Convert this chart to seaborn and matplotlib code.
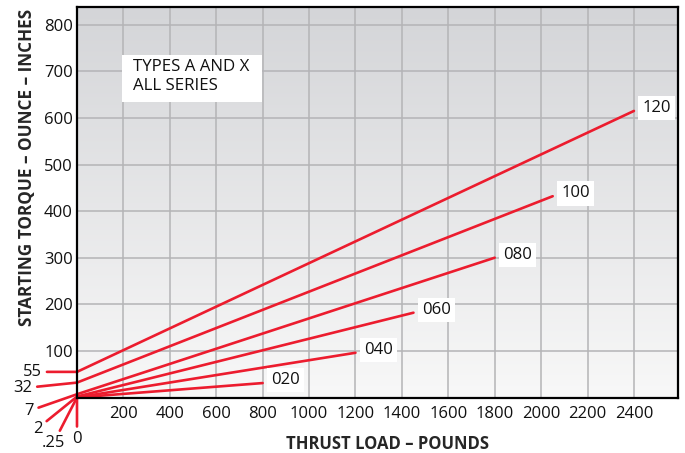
import numpy as np
import pandas as pd
import matplotlib
matplotlib.use("Agg")
import matplotlib.pyplot as plt
from matplotlib.colors import LinearSegmentedColormap
from matplotlib.patches import Rectangle
import seaborn as sns

# series: starting torque at zero load and line end points
series = ['020', '040', '060', '080', '100', '120']
start_torque = [0, 0.25, 2, 7, 32, 55]
start_labels = ['0', '.25', '2', '7', '32', '55']
end_load = [800, 1200, 1450, 1800, 2050, 2400]
end_torque = [31, 96, 182, 300, 432, 615]

x_ticks = list(range(200, 2401, 200))
y_ticks = list(range(100, 801, 100))

rows = []
for s, y0, x1, y1 in zip(series, start_torque, end_load, end_torque):
    rows.append({'series': s, 'load': 0, 'torque': y0})
    rows.append({'series': s, 'load': x1, 'torque': y1})
df = pd.DataFrame(rows)

red = '#ec1c2e'

sns.set_theme(style='white')
plt.rcParams['font.family'] = ['Open Sans', 'DejaVu Sans']

fig = plt.figure(figsize=(6.85, 4.53), dpi=100)
ax = fig.add_axes([0.1124, 0.1225, 0.8774, 0.862])

# grey gradient background
grad = np.linspace(0, 1, 256).reshape(-1, 1)
cmap = LinearSegmentedColormap.from_list('bg', ['#f8f8f8', '#d4d5d8'])
ax.imshow(grad, extent=[0, 1, 0, 1], transform=ax.transAxes, aspect='auto',
          cmap=cmap, origin='lower', zorder=0)

sns.lineplot(data=df, x='load', y='torque', hue='series',
             palette=[red] * len(series), linewidth=1.9, legend=False,
             ax=ax, zorder=3)

ax.set_xlim(0, 2590)
ax.set_ylim(0, 838)
ax.set_xticks(x_ticks)
ax.set_yticks(y_ticks)
ax.set_xticklabels([str(v) for v in x_ticks])
ax.set_yticklabels([str(v) for v in y_ticks])
ax.tick_params(axis='both', length=0, labelsize=12, colors='#111111')
ax.tick_params(axis='x', pad=6)
ax.tick_params(axis='y', pad=3)
ax.grid(True, color='#b4b4b6', linewidth=1.1, zorder=1)
ax.set_axisbelow(False)
for sp in ax.spines.values():
    sp.set_color('black')
    sp.set_linewidth(1.6)
    sp.set_zorder(4)

# end-of-line labels
for s, x1, y1 in zip(series, end_load, end_torque):
    ax.annotate(s, xy=(x1, y1), xytext=(6, 2), textcoords='offset points',
                ha='left', va='center', fontsize=12, color='#111111', zorder=5,
                bbox=dict(boxstyle='square,pad=0.25', fc='white', ec='none'))

# leader lines for the starting torque values
offsets = {'0': (0, -30, 'center'), '.25': (-17, -33, 'center'),
           '2': (-25, -23, 'right'), '7': (-31, -12, 'right'),
           '32': (-32, -4, 'right'), '55': (-25, 0, 'right')}
for lab, y0 in zip(start_labels, start_torque):
    dx, dy, ha = offsets[lab]
    ax.annotate(lab, xy=(0, y0), xytext=(dx, dy), textcoords='offset points',
                ha=ha, va='center', fontsize=12, color='#111111',
                annotation_clip=False,
                arrowprops=dict(arrowstyle='-', color=red, lw=1.9,
                                shrinkA=1, shrinkB=0))

# info box
ax.add_patch(Rectangle((0.0744, 0.756), 0.2329, 0.121, transform=ax.transAxes,
                       fc='white', ec='none', zorder=5))
ax.text(0.0937, 0.866, 'TYPES A AND X\nALL SERIES', transform=ax.transAxes,
        ha='left', va='top', fontsize=12.2, color='#111111', linespacing=1.2,
        zorder=6)

ax.set_xlabel('THRUST LOAD – POUNDS', fontsize=12, fontweight='bold')
ax.set_ylabel('STARTING TORQUE – OUNCE – INCHES', fontsize=12.3, fontweight='bold')
ax.xaxis.set_label_coords(0.517, -0.097)
ax.yaxis.set_label_coords(-0.068, 0.588)

fig.savefig('out.png', dpi=100)
